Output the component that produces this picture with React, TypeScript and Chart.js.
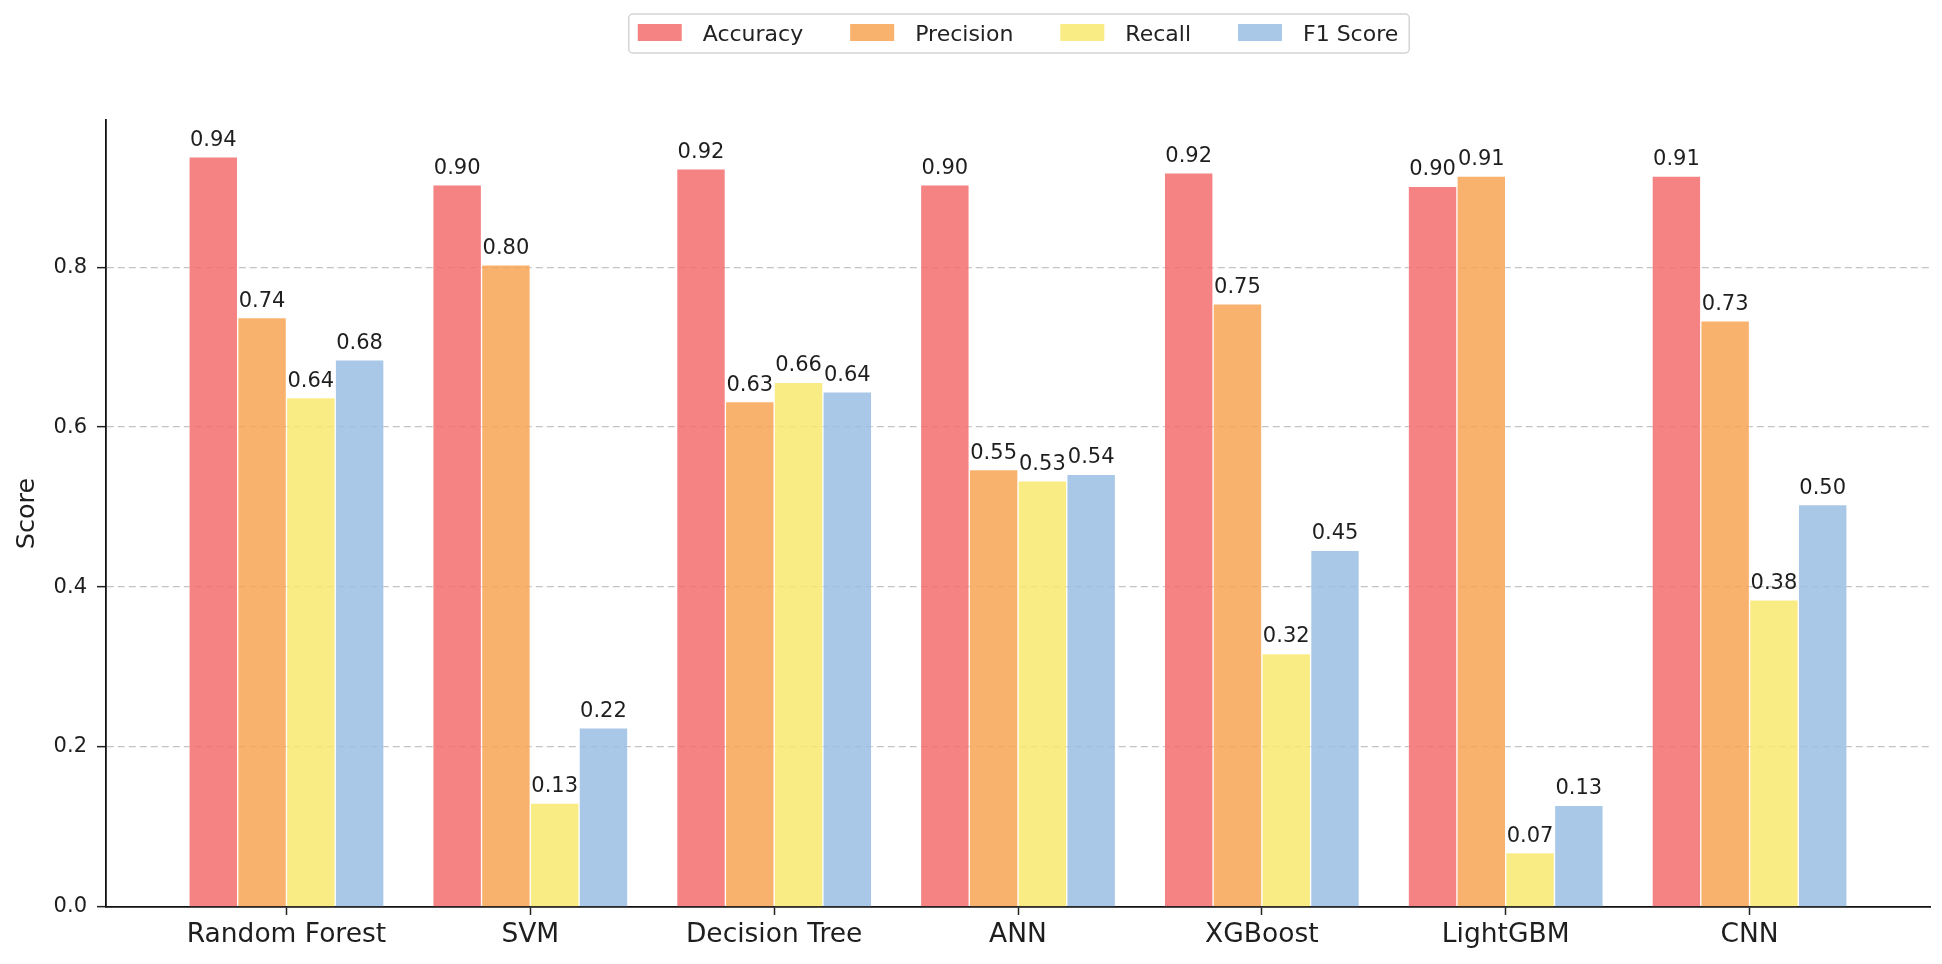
import { useEffect, useRef } from "react";
import { Chart, registerables } from "chart.js";
import type { ChartConfiguration, Plugin } from "chart.js";

Chart.register(...registerables);

const FONT = '"DejaVu Sans", sans-serif';

const models = ["Random Forest", "SVM", "Decision Tree", "ANN", "XGBoost", "LightGBM", "CNN"];
const metricNames = ["Accuracy", "Precision", "Recall", "F1 Score"];

const accuracy = [0.938, 0.903, 0.923, 0.903, 0.918, 0.901, 0.914];
const precision = [0.737, 0.803, 0.632, 0.547, 0.754, 0.914, 0.733];
const recall = [0.637, 0.13, 0.656, 0.533, 0.317, 0.068, 0.384];
const f1Score = [0.684, 0.224, 0.644, 0.541, 0.446, 0.127, 0.503];

const metricColors = [
  "rgba(243, 109, 109, 0.85)",
  "rgba(248, 164, 84, 0.85)",
  "rgba(249, 233, 112, 0.85)",
  "rgba(154, 190, 228, 0.85)",
];

const yTicks = [0, 0.2, 0.4, 0.6, 0.8];

const series = [accuracy, precision, recall, f1Score];
const barUnit = 0.2;

// value labels above each bar
const barLabels: Plugin<"bar"> = {
  id: "barLabels",
  afterDatasetsDraw(chart) {
    const { ctx } = chart;
    ctx.save();
    ctx.font = `21px ${FONT}`;
    ctx.fillStyle = "#1e1e1e";
    ctx.textAlign = "center";
    ctx.textBaseline = "alphabetic";
    chart.data.datasets.forEach((ds, di) => {
      const meta = chart.getDatasetMeta(di);
      meta.data.forEach((bar, i) => {
        const v = series[di][i];
        ctx.fillText(v.toFixed(2), bar.x, bar.y - 11);
      });
    });
    ctx.restore();
  },
};

// matplotlib-like framed legend centred over the axes
const boxLegend: Plugin<"bar"> = {
  id: "boxLegend",
  afterDraw(chart) {
    const { ctx, chartArea } = chart;
    const boxW = 44;
    const boxH = 17;
    const textGap = 21;
    const itemGap = 47;
    ctx.save();
    ctx.font = `22px ${FONT}`;
    const items = chart.data.datasets.map((ds) => ({
      label: String(ds.label),
      color: ds.backgroundColor as string,
      w: ctx.measureText(String(ds.label)).width,
    }));
    const total =
      items.reduce((s, it) => s + boxW + textGap + it.w, 0) + itemGap * (items.length - 1);
    let x = (chartArea.left + chartArea.right) / 2 - total / 2;

    ctx.beginPath();
    ctx.roundRect(x - 9, 14, total + 20, 39, 4);
    ctx.fillStyle = "rgba(255,255,255,0.9)";
    ctx.fill();
    ctx.lineWidth = 1.5;
    ctx.strokeStyle = "#d4d4d4";
    ctx.stroke();

    ctx.textBaseline = "alphabetic";
    ctx.textAlign = "left";
    items.forEach((it) => {
      ctx.fillStyle = it.color;
      ctx.fillRect(x, 24, boxW, boxH);
      ctx.fillStyle = "#222222";
      ctx.fillText(it.label, x + boxW + textGap, 41);
      x += boxW + textGap + it.w + itemGap;
    });
    ctx.restore();
  },
};

function buildConfig(): ChartConfiguration<"bar"> {
  return {
    type: "bar",
    data: {
      datasets: metricNames.map((name, k) => ({
        label: name,
        data: series[k].map((v, i) => ({ x: i + (k - 1.5) * barUnit, y: v })),
        backgroundColor: metricColors[k],
        borderColor: "rgba(255,255,255,0.35)",
        borderWidth: 1,
        grouped: false,
        barPercentage: 1,
        categoryPercentage: 1,
      })),
    },
    options: {
      animation: false,
      responsive: true,
      maintainAspectRatio: false,
      layout: { padding: { top: 120, right: 12, left: 0, bottom: 0 } },
      plugins: {
        legend: { display: false },
        tooltip: { enabled: false },
      },
      scales: {
        x: {
          type: "linear",
          min: -0.74,
          max: 6.74,
          offset: false,
          afterBuildTicks: (scale) => {
            scale.ticks = models.map((_, i) => ({ value: i }));
          },
          afterFit: (scale) => {
            scale.height = 57;
          },
          ticks: {
            autoSkip: false,
            maxRotation: 0,
            minRotation: 0,
            padding: 4,
            color: "#1e1e1e",
            font: { family: FONT, size: 26.5 },
            callback: (value) => models[Number(value)] ?? "",
          },
          grid: {
            display: true,
            offset: false,
            drawOnChartArea: false,
            drawTicks: true,
            tickLength: 8,
            tickColor: "#222222",
            tickWidth: 1.5,
          },
          border: { display: true, color: "#111111", width: 1.8 },
        },
        y: {
          min: 0,
          max: 0.984,
          afterBuildTicks: (scale) => {
            scale.ticks = yTicks.map((v) => ({ value: v }));
          },
          afterFit: (scale) => {
            scale.width = 106;
          },
          title: {
            display: true,
            text: "Score",
            color: "#1e1e1e",
            font: { family: FONT, size: 25.5 },
            padding: { top: 12, bottom: 0 },
          },
          ticks: {
            padding: 10,
            color: "#1e1e1e",
            font: { family: FONT, size: 21 },
            callback: (value) => Number(value).toFixed(1),
          },
          grid: {
            color: (c) => (c.tick && c.tick.value === 0 ? "rgba(0,0,0,0)" : "#c4c4c4"),
            lineWidth: 1.3,
            drawTicks: true,
            tickLength: 9,
            tickColor: "#222222",
            tickWidth: 1.5,
            tickBorderDash: [],
          },
          border: { display: true, color: "#111111", width: 1.8, dash: [7, 4] },
        },
      },
    },
    plugins: [barLabels, boxLegend],
  };
}

export default function App() {
  const canvasRef = useRef<HTMLCanvasElement | null>(null);
  const chartRef = useRef<Chart<"bar"> | null>(null);

  useEffect(() => {
    if (!canvasRef.current) {
      return;
    }
    chartRef.current?.destroy();
    chartRef.current = new Chart(canvasRef.current, buildConfig());
    return () => {
      chartRef.current?.destroy();
      chartRef.current = null;
    };
  }, []);

  return (
    <div
      style={{
        position: "fixed",
        left: 0,
        top: 0,
        width: 1942,
        height: 964,
        background: "#ffffff",
      }}
    >
      <canvas ref={canvasRef} role="img" aria-label="Model performance scores">
        Model performance scores
      </canvas>
    </div>
  );
}
